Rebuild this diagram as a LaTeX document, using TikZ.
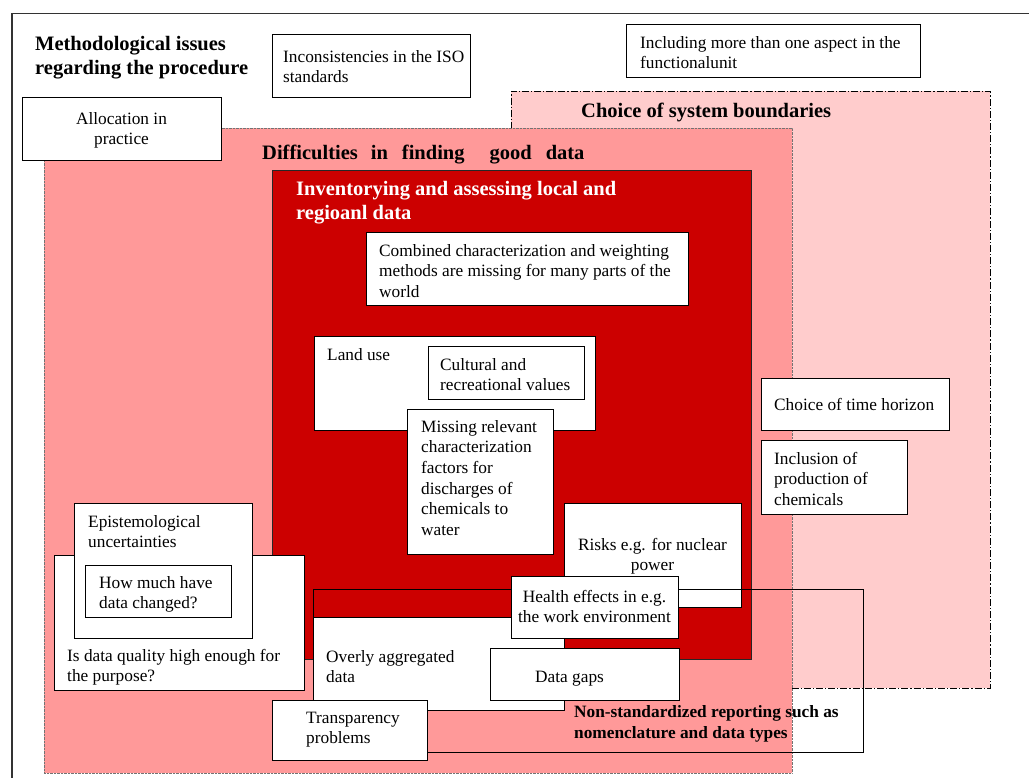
\documentclass[tikz,border=0pt]{standalone}
\usepackage{fontspec}
\setmainfont{Liberation Serif}
\definecolor{lightpink}{HTML}{FFCCCC}
\definecolor{midpink}{HTML}{FF9999}
\definecolor{darkred}{HTML}{CC0000}
\tikzset{
  box/.style={draw=black, fill=white, line width=0.9pt, anchor=north west, inner sep=0pt, outer sep=0pt},
  region/.style={anchor=north west, inner sep=0pt, outer sep=0pt},
  txt/.style={anchor=north west, inner sep=0pt, align=left, font=\fontsize{17.3}{20.7}\selectfont, yshift=14.5pt},
  ctxt/.style={txt, anchor=north, align=center},
  ttl/.style={anchor=north west, inner sep=0pt, align=left, font=\fontsize{20.5}{24.8}\selectfont\bfseries, yshift=17.36pt},
  ttls/.style={anchor=north west, inner sep=0pt, align=left, font=\fontsize{17.3}{21}\selectfont\bfseries, yshift=14.7pt},
}
\begin{document}
\begin{tikzpicture}[x=1pt,y=-1pt]
\useasboundingbox (0,0) rectangle (1029,778);
% outer frame
\draw[line width=1.3pt, black!80] (12,778) -- (12,13.5) -- (1029,13.5);
% light pink region
\node[region, fill=lightpink, draw=black, line width=0.8pt, dash pattern=on 7pt off 2pt on 1.2pt off 2pt, minimum width=479pt, minimum height=597pt] (sysb) at (511,91) {};
% top boxes
\node[box, minimum width=198pt, minimum height=63pt] (incon) at (272,34) {};
\node[txt] (incont) at (283,62) {\strut Inconsistencies in the ISO\\standards};
\node[box, minimum width=294pt, minimum height=53pt] (incl) at (626,24) {};
\node[txt] (inclt) at (640,48) {\strut Including more than one aspect in the\\functionalunit};
% medium pink region
\node[region, fill=midpink, draw=black!55, line width=0.6pt, dash pattern=on 0.7pt off 0.7pt, minimum width=748pt, minimum height=645pt] (diff) at (44,128) {};
% allocation
\node[box, minimum width=199pt, minimum height=63pt] (alloc) at (22,97) {};
\node[ctxt] (alloct) at (121.5,124) {\strut Allocation in\\practice};
% titles
\node[ttl] (meth) at (35,50) {\strut Methodological issues\\regarding the procedure};
\node[ttl] (sysbt) at (581,117) {\strut Choice of system boundaries};
\node[ttl] (difft) at (262,159) {\strut Difficulties\hspace{13pt}in\hspace{14pt}finding\hspace{25pt}good\hspace{14pt}data};
% dark red region
\node[region, fill=darkred, draw=black!85, line width=0.9pt, minimum width=479pt, minimum height=489pt] (inv) at (272,170) {};
\node[ttl, text=white] (invt) at (296,195) {\strut Inventorying and assessing local and\\regioanl data};
% inner boxes
\node[box, minimum width=322pt, minimum height=73pt] (comb) at (366,232) {};
\node[txt] (combt) at (379,256) {\strut Combined characterization and weighting\\methods are missing for many parts of the\\world};
\node[box, minimum width=281pt, minimum height=94pt] (land) at (314,336) {};
\node[txt] (landt) at (327,360) {\strut Land use};
\node[box, minimum width=156pt, minimum height=53pt] (cult) at (428,346) {};
\node[txt] (cultt) at (440,370) {\strut Cultural and\\recreational values};
\node[box, minimum width=146pt, minimum height=145pt] (miss) at (407,409) {};
\node[txt] (misst) at (421,432) {\strut Missing relevant\\characterization\\factors for\\discharges of\\chemicals to\\water};
\node[box, minimum width=177pt, minimum height=104pt] (risk) at (564,503) {};
\node[ctxt] (riskt) at (652.5,550) {\strut Risks e.g. for nuclear\\power};
% non-standardized reporting frame
\node[region, draw=black, line width=0.9pt, minimum width=550pt, minimum height=163pt] (nonstd) at (313,589) {};
\node[ttls] (nonstdt) at (574,717) {\strut Non-standardized reporting such as\\nomenclature and data types};
\node[box, minimum width=251pt, minimum height=93pt] (overly) at (313,617) {};
\node[txt] (overlyt) at (326,662) {\strut Overly aggregated\\data};
\node[box, minimum width=167pt, minimum height=62pt] (health) at (511,576) {};
\node[ctxt] (healtht) at (594.5,602) {\strut Health effects in e.g.\\the work environment};
\node[box, minimum width=189pt, minimum height=52pt] (gaps) at (490,648) {};
\node[txt] (gapst) at (535,682) {\strut Data gaps};
\node[box, minimum width=155pt, minimum height=60pt] (transp) at (272,700) {};
\node[txt] (transpt) at (306,723) {\strut Transparency\\problems};
% left boxes
\node[box, minimum width=250pt, minimum height=135pt] (isdata) at (54,555) {};
\node[txt] (isdatat) at (67,661) {\strut Is data quality high enough for\\the purpose?};
\node[box, minimum width=178pt, minimum height=135pt] (epist) at (74,503) {};
\node[txt] (epistt) at (88,527) {\strut Epistemological\\uncertainties};
\node[box, minimum width=146pt, minimum height=52pt] (howm) at (85,565) {};
\node[txt] (howmt) at (99,588) {\strut How much have\\data changed?};
% right boxes
\node[box, minimum width=188pt, minimum height=52pt] (horiz) at (761,378) {};
\node[txt] (horizt) at (774,410) {\strut Choice of time horizon};
\node[box, minimum width=146pt, minimum height=74pt] (inclu) at (761,440) {};
\node[txt] (inclut) at (774,464) {\strut Inclusion of\\production of\\chemicals};
\end{tikzpicture}
\end{document}
